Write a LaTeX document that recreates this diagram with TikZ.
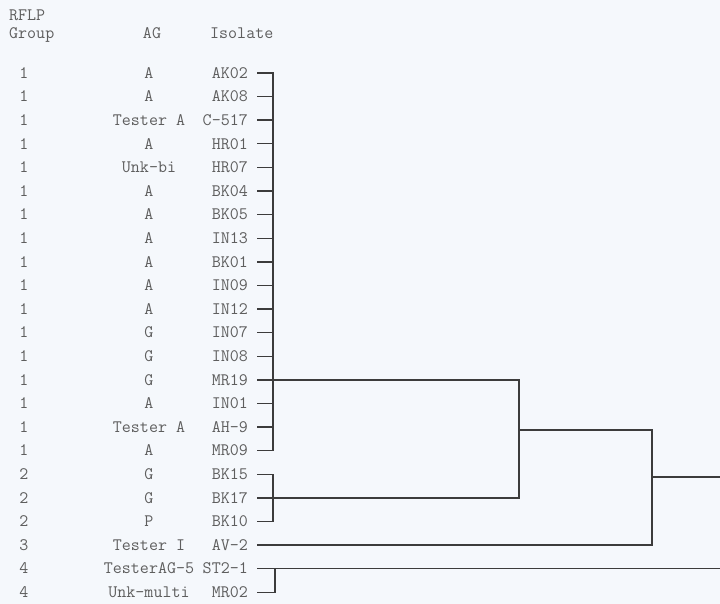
\documentclass[tikz,border=0pt]{standalone}
\usepackage{fontspec}
\usetikzlibrary{positioning,calc}
\definecolor{ink}{HTML}{5E5E5E}
\definecolor{tree}{HTML}{3C3C3C}
\definecolor{paper}{HTML}{F5F8FC}

\begin{document}
\begin{tikzpicture}[x=1pt, y=-1pt,
  txt/.style={font=\fontsize{17.5}{18}\selectfont\ttfamily, text=ink, inner sep=0pt, text height=10.5pt, text depth=0pt},
  grp/.style={txt, anchor=center},
  agc/.style={txt, anchor=center},
  iso/.style={txt, anchor=east, inner xsep=10pt},
  head/.style={txt, anchor=west},
  branch/.style={draw=tree, line width=1.4pt, line cap=rect}
]
  % page
  \fill[paper] (0,0) rectangle (720,604);
  \useasboundingbox (0,0) rectangle (720,604);

  % column heads
  \node[head] (hr) at (9,15) {RFLP};
  \node[head] (hg) at (9,33) {Group};
  \node[agc] (ha) at (152,33) {AG};
  \node[head] (hi) at (210,33) {Isolate};

  % table rows
  \foreach \g/\ag/\iso [count=\i, evaluate=\i as \y using 73+23.6*(\i-1)] in {
    1/A/AK02, 1/A/AK08, 1/Tester A/C-517, 1/A/HR01, 1/Unk-bi/HR07, 1/A/BK04,
    1/A/BK05, 1/A/IN13, 1/A/BK01, 1/A/IN09, 1/A/IN12, 1/G/IN07, 1/G/IN08,
    1/G/MR19, 1/A/IN01, 1/Tester A/AH-9, 1/A/MR09, 2/G/BK15, 2/G/BK17,
    2/P/BK10, 3/Tester I/AV-2, 4/TesterAG-5/ST2-1, 4/Unk-multi/MR02} {
    \node[grp] (g\i) at (24,\y) {\g};
    \node[agc] (a\i) at (149,\y) {\ag};
    \node[iso] (s\i) at (258,\y) {\iso};
  }

  % joins of the tree
  \coordinate (k1) at (273,0);
  \coordinate (k2) at (519,0);
  \coordinate (k3) at (652,0);
  \coordinate (k4) at (275,0);
  \coordinate (n12) at (519,430);
  \coordinate (n123) at (652,477);
  \coordinate (rt) at (720,0);

  % group 1
  \foreach \i in {1,...,13,15,16,17}
    \draw[branch] (s\i.east) -- (s\i.east -| k1);
  \draw[branch] (s1.east -| k1) -- (s17.east -| k1);
  \draw[branch] (s14.east) -- (s14.east -| k2);

  % group 2
  \foreach \i in {18,20}
    \draw[branch] (s\i.east) -- (s\i.east -| k1);
  \draw[branch] (s18.east -| k1) -- (s20.east -| k1);
  \draw[branch] (s19.east) -- (s19.east -| k2);
  \draw[branch] (s14.east -| k2) -- (s19.east -| k2);

  % group 3
  \draw[branch] (n12) -- (n12 -| k3);
  \draw[branch] (s21.east) -- (s21.east -| k3);
  \draw[branch] (n12 -| k3) -- (s21.east -| k3);
  \draw[branch] (n123) -- (n123 -| rt);

  % group 4
  \draw[branch] (s22.east) -- (s22.east -| rt);
  \draw[branch] (s23.east) -- (s23.east -| k4);
  \draw[branch] (s22.east -| k4) -- (s23.east -| k4);
\end{tikzpicture}
\end{document}
